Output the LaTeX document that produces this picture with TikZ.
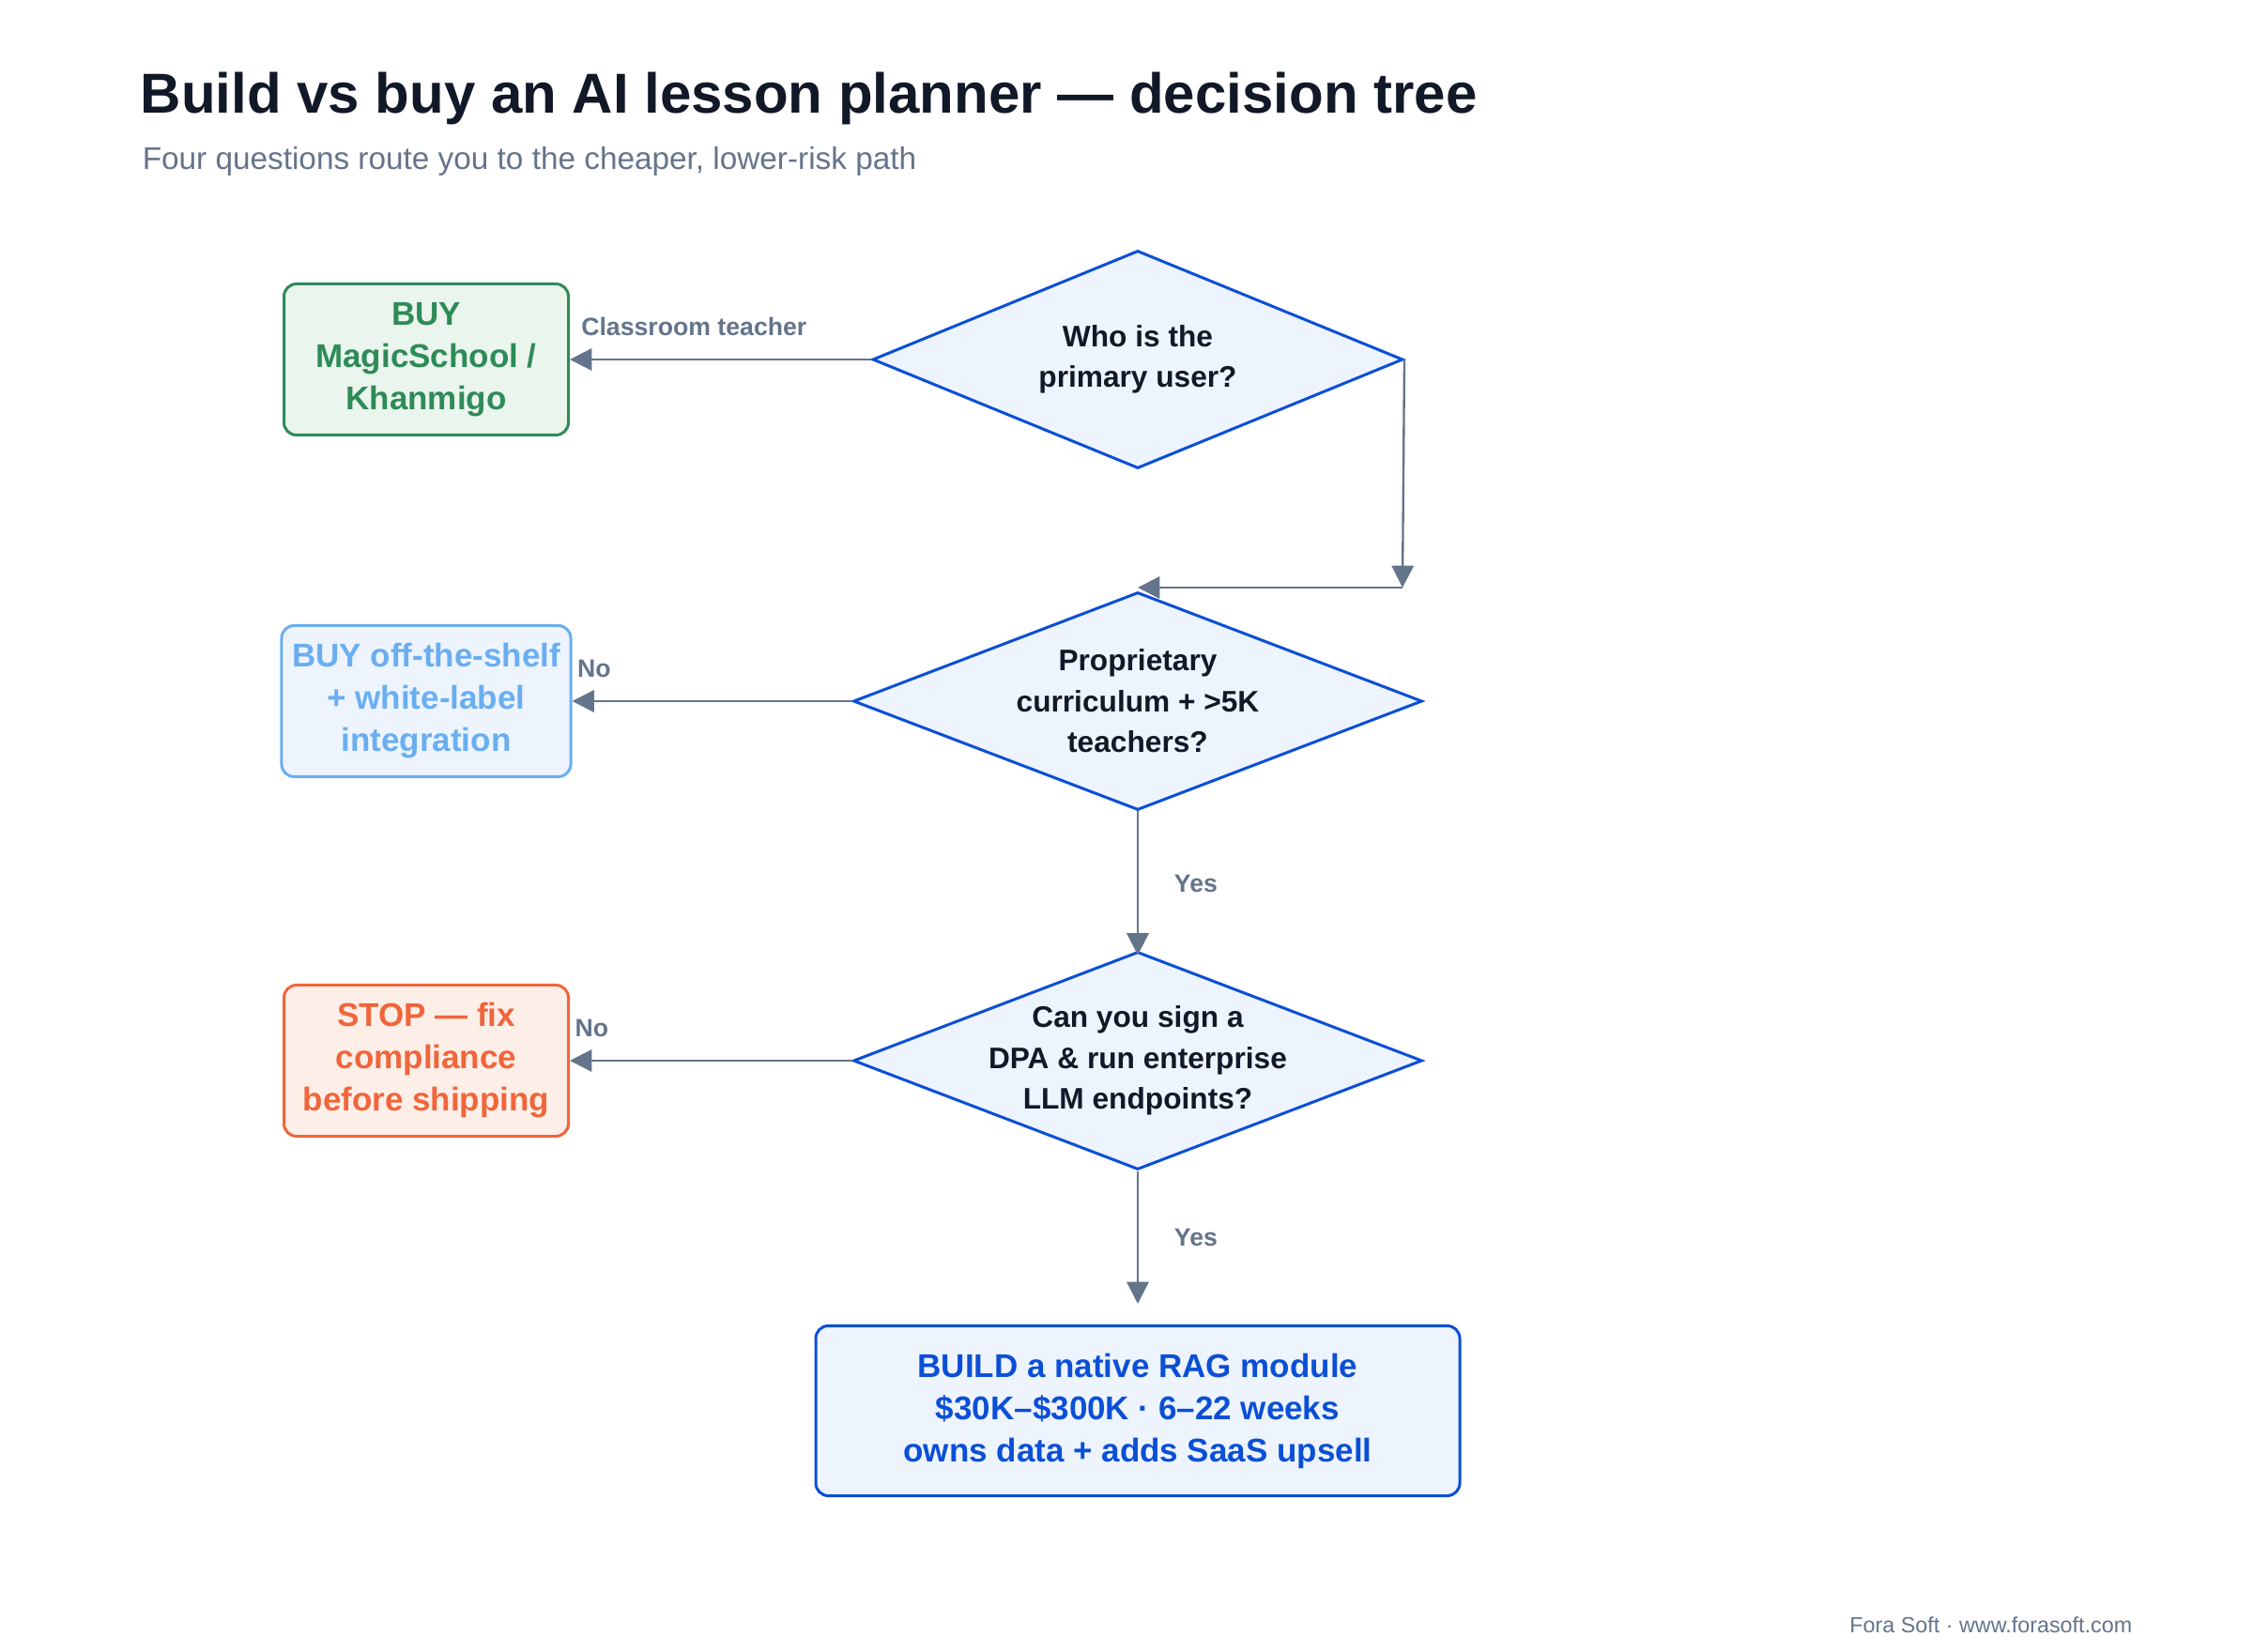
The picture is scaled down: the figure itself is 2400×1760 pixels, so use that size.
\documentclass[tikz,border=0pt]{standalone}
\usepackage{fontspec}
\setmainfont{Liberation Sans}
\usetikzlibrary{shapes.geometric,arrows.meta}
\definecolor{ink}{HTML}{111827}
\definecolor{slate}{HTML}{64748B}
\definecolor{bl}{HTML}{0B4FD6}
\definecolor{blf}{HTML}{EDF4FE}
\definecolor{gr}{HTML}{2E8B57}
\definecolor{grf}{HTML}{EAF5EE}
\definecolor{lb}{HTML}{6AAEF0}
\definecolor{orn}{HTML}{F0653A}
\definecolor{ornf}{HTML}{FEEEE8}
\begin{document}
\begin{tikzpicture}[x=0.3pt,y=-0.3pt,
  dia/.style={diamond,draw=bl,fill=blf,line width=0.9pt,inner sep=0pt,minimum width=#1*0.3pt,minimum height=232*0.3pt,aspect=2.4},
  qtext/.style={text=ink,font=\bfseries\fontsize{9.5}{13}\selectfont,align=center},
  box/.style={rounded corners=4pt,line width=0.9pt,minimum width=303*0.3pt,minimum height=161*0.3pt,align=center,font=\bfseries\fontsize{10.5}{13.5}\selectfont},
  arr/.style={draw=slate,line width=0.7pt,-{Triangle[length=7pt,width=7pt]}},
  lab/.style={text=slate,font=\bfseries\fontsize{8}{10}\selectfont}]
\useasboundingbox[fill=white] (0,0) rectangle (2400,1760);
\node[anchor=base west,text=ink,font=\bfseries\fontsize{18}{22}\selectfont] (title) at (138,121) {Build vs buy an AI lesson planner — decision tree};
\node[anchor=base west,text=slate,font=\fontsize{10}{12}\selectfont] (sub) at (140,181) {Four questions route you to the cheaper, lower-risk path};
\node[dia=565] (d1) at (1212,383) {};
\node[qtext] (t1) at (1212,383) {Who is the\\primary user?};
\node[dia=606] (d2) at (1212,747) {};
\node[qtext] (t2) at (1212,747) {Proprietary\\curriculum + >5K\\teachers?};
\node[dia=606] (d3) at (1212,1130) {};
\node[qtext] (t3) at (1212,1130) {Can you sign a\\DPA \& run enterprise\\LLM endpoints?};
\node[box,draw=gr,fill=grf,text=gr] (b1) at (454,383) {BUY\\MagicSchool /\\Khanmigo};
\node[box,draw=lb,fill=blf,text=lb] (b2) at (454,747) {BUY off-the-shelf\\+ white-label\\integration};
\node[box,draw=orn,fill=ornf,text=orn] (b3) at (454,1130) {STOP — fix\\compliance\\before shipping};
\node[box,draw=bl,fill=blf,text=bl,minimum width=686*0.3pt,minimum height=181*0.3pt] (b4) at (1212,1503) {BUILD a native RAG module\\\$30K–\$300K · 6–22 weeks\\owns data + adds SaaS upsell};
\node[anchor=base east,text=slate,font=\fontsize{7}{9}\selectfont] (foot) at (2283,1739) {Fora Soft · www.forasoft.com};
\coordinate (c1) at (1494,626);
\coordinate (c2) at (1212,626);
\draw[arr] (d1.west) -- (b1.east) node[lab,pos=1,anchor=south west,yshift=4pt] {Classroom teacher};
\draw[arr] (d1.east) -- (c1);
\draw[arr] (c1) -- (c2);
\draw[arr] (d2.west) -- (b2.east) node[lab,pos=1,anchor=south west,yshift=4pt,xshift=-2pt] {No};
\draw[arr] (d3.west) -- (b3.east) node[lab,pos=1,anchor=south west,yshift=4pt,xshift=-2pt] {No};
\draw[arr] (d2.south) -- ([yshift=-5*0.3pt]d3.north) node[lab,midway,right=8pt] {Yes};
\draw[arr] (d3.south) -- ([yshift=22*0.3pt]b4.north) node[lab,midway,right=8pt] {Yes};
\end{tikzpicture}
\end{document}
